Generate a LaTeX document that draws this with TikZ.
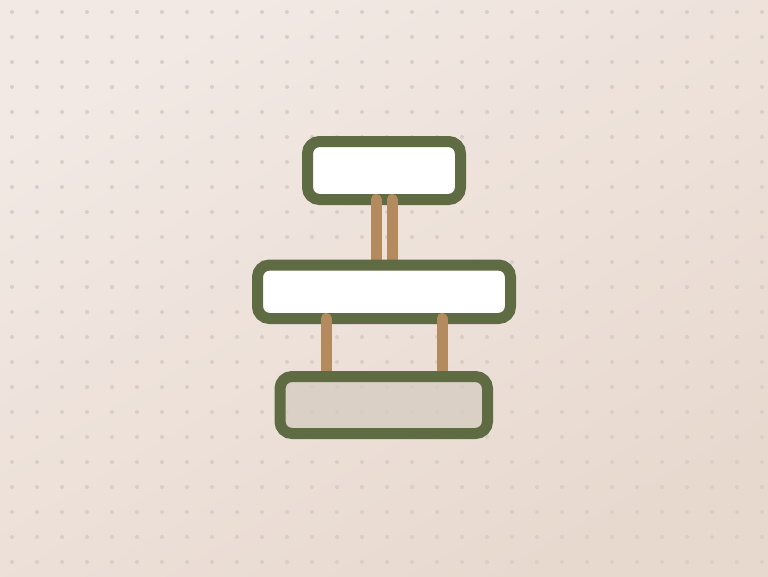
\documentclass[tikz,border=0pt]{standalone}
\begin{document}
\begin{tikzpicture}[x=1pt,y=-1pt,
  box/.style={draw=boxgreen,line width=11pt,rounded corners=12pt,inner sep=0pt,outer sep=0pt},
  slot/.style={inner sep=0pt,outer sep=0pt},
  link/.style={draw=linktan,line width=11pt,line cap=round}]
\definecolor{boxgreen}{HTML}{5F6B43}
\definecolor{linktan}{HTML}{B38B5E}
\definecolor{bgtl}{HTML}{F2E9E4}
\definecolor{bgbr}{HTML}{E8D9CF}
\definecolor{dotc}{HTML}{D9CEC7}
\definecolor{lowfill}{HTML}{D6CDC1}
\useasboundingbox (0,0) rectangle (768,576);
\shade[top color=bgtl,bottom color=bgbr,shading angle=30] (0,0) rectangle (768,576);
\foreach \i in {0,...,30}{
  \foreach \j in {0,...,22}{
    \fill[dotc] (12+25*\i,12+25*\j) circle (2pt);
  }
}
% placeholders for anchor positions
\node[slot,minimum width=253pt,minimum height=53.5pt] (mid) at (384,291.75) {};
\node[slot,minimum width=207.5pt,minimum height=57pt] (bot) at (383.75,405) {};
% top box and its links
\node[box,fill=white,minimum width=153pt,minimum height=58pt] (top) at (384,170.5) {};
\draw[link] ([xshift=-8pt]top.south) -- ([xshift=-8pt]top.south |- mid.north);
\draw[link] ([xshift=8pt]top.south) -- ([xshift=8pt]top.south |- mid.north);
% middle box and its links
\node[box,fill=white,minimum width=253pt,minimum height=53.5pt] (midbox) at (mid) {};
\draw[link] ([xshift=-58pt]mid.south) -- ([xshift=-58pt]mid.south |- bot.north);
\draw[link] ([xshift=58pt]mid.south) -- ([xshift=58pt]mid.south |- bot.north);
% bottom box
\node[box,fill=lowfill,fill opacity=0.8,minimum width=207.5pt,minimum height=57pt] (botbox) at (bot) {};
\end{tikzpicture}
\end{document}
